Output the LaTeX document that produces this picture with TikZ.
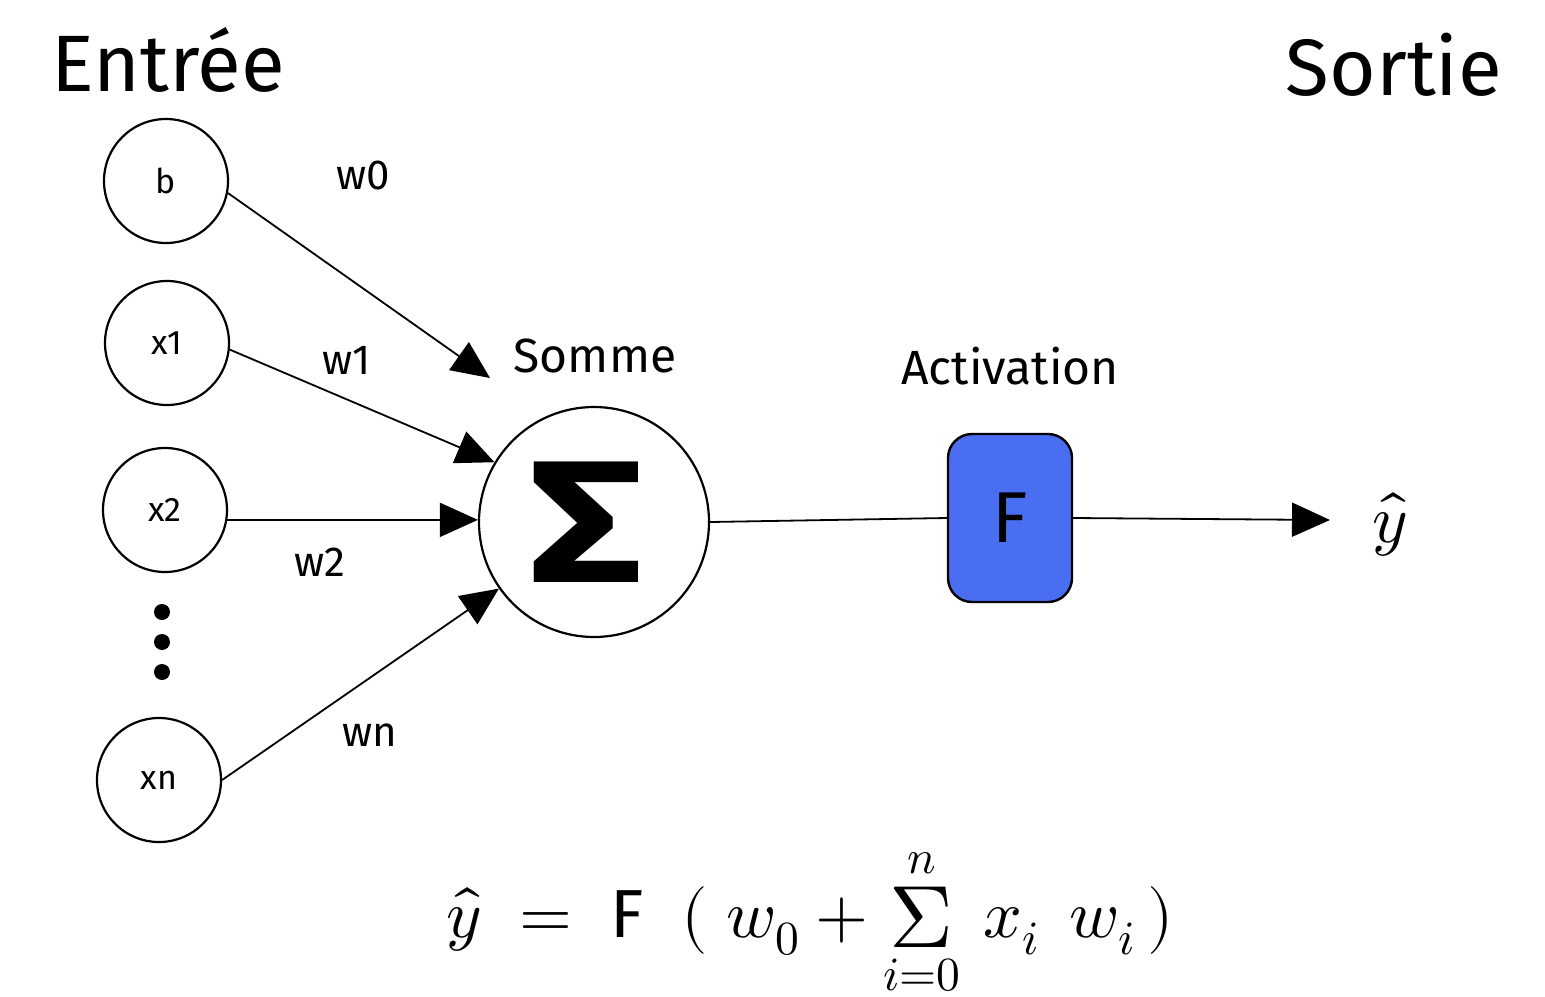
\documentclass[tikz,border=0pt]{standalone}
\usepackage{graphicx}
\usepackage{unicode-math}
\setmainfont{Fira Sans}
\usetikzlibrary{arrows.meta}
\definecolor{fblue}{HTML}{4A6EF2}
\begin{document}
\begin{tikzpicture}[x=0.5pt,y=-0.5pt,
  inp/.style={circle, draw, line width=1.1pt, minimum size=62pt, inner sep=0pt, font=\fontsize{17}{19}\selectfont},
  sumc/.style={circle, draw, line width=1.1pt, minimum size=115pt, inner sep=0pt},
  fbox/.style={rectangle, rounded corners=12pt, draw, line width=1.2pt, fill=fblue, minimum width=62pt, minimum height=84pt, font=\fontsize{36}{38}\selectfont},
  conn/.style={line width=0.9pt, -{Triangle[length=19pt,width=17pt]}},
  plain/.style={line width=0.9pt},
  title/.style={font=\fontsize{40}{44}\selectfont},
  head/.style={font=\fontsize{24}{28}\selectfont},
  wlab/.style={font=\fontsize{21}{24}\selectfont},
  dotc/.style={circle, fill, inner sep=0pt, minimum size=8pt}]
\useasboundingbox (0,0) rectangle (1545,996);
\node[title] (entree) at (168,60) {Entrée};
\node[title] (sortie) at (1394,65) {Sortie};
\node[inp] (b) at (166,181) {b};
\node[inp] (x1) at (167,343) {x1};
\node[inp] (x2) at (165,510) {x2};
\node[inp] (xn) at (159,780) {xn};
\node[dotc] (d1) at (162,612) {};
\node[dotc] (d2) at (162,642) {};
\node[dotc] (d3) at (162,672) {};
\node[sumc] (s) at (594,522) {};
\node[font=\fontsize{87}{90}\selectfont\bfseries] (sig) at (586,522) {\scalebox{1.3}[1]{Σ}};
\node[head] (somme) at (595,356) {Somme};
\node[head] (act) at (1010,366) {Activation};
\node[fbox] (F) at (1010,518) {F};
\node[font=\fontsize{34}{36}\selectfont] (yh) at (1390,525) {$\hat{y}$};
\coordinate (tb) at (490,378);
\coordinate (ye) at (1330,520);
\draw[conn] (b.-11) -- (tb);
\draw[conn] (x1.-6) -- (s.149);
\draw[conn] (x2.-9) -- (x2.-9 -| s.west);
\draw[conn] (xn.east) -- (s.215);
\draw[plain] (s.east) -- (F.west);
\draw[conn] (F.east) -- (ye);
\node[wlab] (w0) at (363,175) {w0};
\node[wlab] (w1) at (347,360) {w1};
\node[wlab] (w2) at (320,562) {w2};
\node[wlab] (wn) at (370,735) {wn};
\node[font=\fontsize{34}{36}\selectfont] (eq) at (810,922) {$\hat{y} \;=\; \mathrm{F}\;\;(\;w_0 + \mathop{\raisebox{-0.15em}{\scalebox{1.3}{$\Sigma$}}}\limits_{i=0}^{n} \,x_i\;\, w_i\,)$};
\end{tikzpicture}
\end{document}
